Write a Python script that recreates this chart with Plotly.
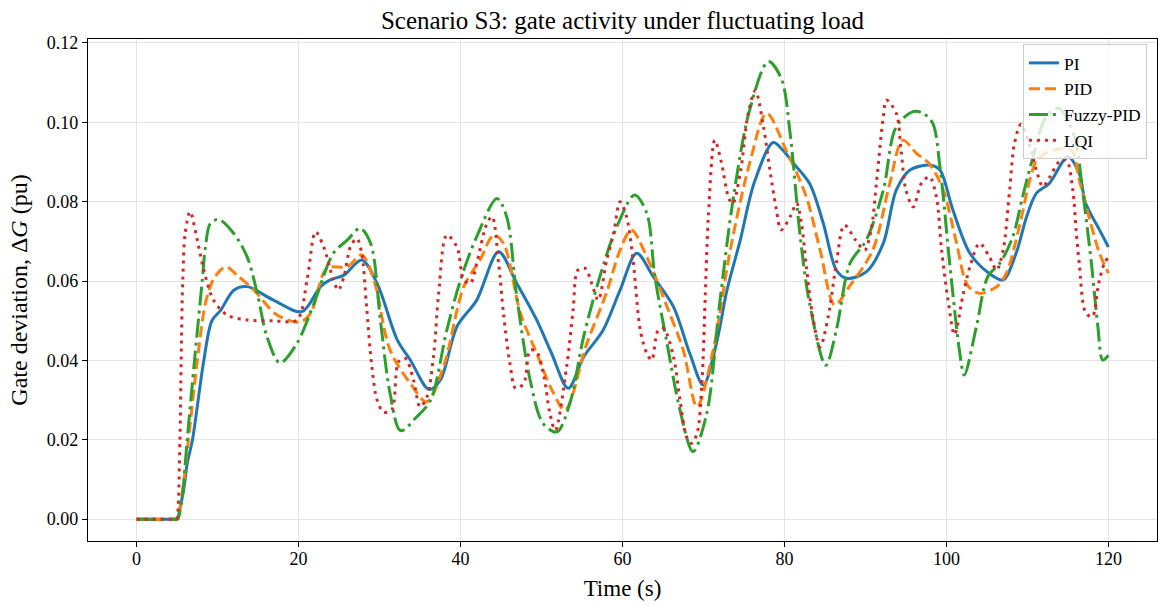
import plotly.graph_objects as go

# ---- data ----
t_pi = [0, 4.9, 5.0, 5.8, 6.25, 6.9, 8.3, 9.3, 10.4, 12.0, 13.65, 16.9, 20.4, 22.7, 23.9, 25.6,
        27.8, 29.7, 32.2, 33.8, 36.1, 37.5, 39.55, 42.0, 44.7, 46.95, 49.4, 51.2, 53.3,
        55.2, 57.6, 59.7, 61.75, 63.8, 66.3, 68.3, 69.97, 71.6, 72.9, 74.5, 76.3, 78.6,
        79.8, 81.1, 83.1, 84.8, 86.4, 87.65, 90.1, 92.2, 93.8, 95.5, 98.1, 99.2, 100.8,
        102.9, 105.3, 107.0, 108.6, 109.9, 111.1, 112.7, 115.0, 116.4, 117.2, 118.9, 120]
v_pi = [0, 0, 0, 0.0073, 0.014, 0.02, 0.04, 0.05, 0.0527, 0.0577, 0.0586, 0.0552, 0.0523, 0.0586,
        0.0603, 0.0615, 0.0653, 0.0594, 0.0451, 0.0401, 0.0327, 0.035, 0.0485, 0.0552, 0.0674,
        0.0594, 0.0502, 0.042, 0.033, 0.0409, 0.0476, 0.0577, 0.067, 0.0611, 0.0535, 0.0418,
        0.0338, 0.0443, 0.0577, 0.070, 0.085, 0.0949, 0.093, 0.0897, 0.0846, 0.0745, 0.0628,
        0.0607, 0.0623, 0.0695, 0.0829, 0.088, 0.0892, 0.088, 0.0779, 0.067, 0.0619, 0.0603,
        0.067, 0.0762, 0.0821, 0.0846, 0.0913, 0.0871, 0.0796, 0.0729, 0.0686]

t_pid = [0, 4.9, 5.0, 5.6, 6.4, 7.5, 8.5, 9.5, 11.0, 12.4, 14.5, 17.4, 20.2, 21.5, 23.5, 26.0, 27.8,
         29.3, 31.3, 33.8, 35.85, 37.9, 40.4, 42.4, 44.1, 45.3, 47.4, 49.4, 51.3, 52.9, 55.6,
         58.0, 59.7, 61.1, 63.0, 65.5, 67.5, 69.2, 71.2, 73.3, 75.7, 77.8, 80.2, 82.7, 84.4,
         86.2, 88.0, 90.9, 93.0, 94.6, 96.3, 97.9, 99.6, 101.2, 102.6, 104.1, 106.2, 107.4,
         109.0, 110.3, 111.2, 113.2, 115.4, 116.4, 117.7, 118.9, 120]
v_pid = [0, 0, 0, 0.006, 0.02, 0.04, 0.0544, 0.0605, 0.0636, 0.0615, 0.0577, 0.0514, 0.0497, 0.0519,
         0.0632, 0.0636, 0.0666, 0.0603, 0.0426, 0.0342, 0.0296, 0.0384, 0.0586, 0.0653, 0.0716,
         0.0695, 0.0519, 0.0418, 0.0325, 0.0275, 0.0443, 0.0569, 0.0678, 0.0729, 0.0661, 0.0535,
         0.0426, 0.0283, 0.0426, 0.0678, 0.0897, 0.1023, 0.093, 0.0812, 0.0678, 0.054, 0.0586,
         0.0678, 0.0846, 0.0955, 0.0922, 0.0895, 0.083, 0.070, 0.059, 0.0569, 0.0586, 0.062,
         0.0737, 0.0855, 0.0905, 0.093, 0.093, 0.0855, 0.0754, 0.067, 0.062]

t_fuzzy = [0, 5.0, 5.1, 5.6, 6.25, 7.15, 8.1, 8.5, 9.1, 10.15, 12.0, 13.65, 14.9, 16.1, 17.7, 19.8,
           21.9, 24.3, 26.0, 27.6, 28.9, 30.1, 31.3, 32.6, 34.6, 36.3, 38.3, 40.0, 42.0, 44.5,
           45.7, 46.95, 48.6, 50.2, 51.9, 53.5, 55.2, 57.2, 59.3, 61.5, 63.0, 64.0, 65.5, 67.1,
           68.7, 70.4, 72.0, 73.7, 75.7, 78.0, 79.6, 80.7, 81.9, 83.1, 85.1, 86.4, 88.1, 90.1,
           92.2, 93.8, 95.9, 97.1, 98.3, 99.2, 100.4, 101.6, 102.2, 103.7, 105.1, 106.6, 108.2,
           109.4, 110.7, 112.3, 113.9, 115.8, 116.8, 117.9, 118.7, 119.3, 120]
v_fuzzy = [0, 0, 0, 0.005, 0.02, 0.04, 0.06, 0.0686, 0.0745, 0.0755, 0.072, 0.0661, 0.0569, 0.046,
           0.0394, 0.0443, 0.0544, 0.067, 0.0703, 0.0733, 0.0695, 0.0502, 0.0317, 0.0223, 0.0258,
           0.03, 0.0476, 0.0603, 0.0712, 0.0808, 0.0762, 0.056, 0.035, 0.0241, 0.022, 0.0292,
           0.046, 0.0611, 0.0737, 0.0817, 0.0771, 0.0611, 0.0443, 0.0275, 0.017, 0.0266, 0.0544,
           0.0812, 0.1031, 0.1153, 0.1111, 0.0972, 0.072, 0.0544, 0.0388, 0.0476, 0.0645, 0.0703,
           0.0829, 0.0989, 0.1027, 0.1023, 0.0998, 0.0888, 0.0645, 0.0426, 0.0363, 0.0485, 0.0611,
           0.0645, 0.0712, 0.0812, 0.0913, 0.1014, 0.1035, 0.0964, 0.0829, 0.0645, 0.0485, 0.0401,
           0.0413]

t_lqi = [0, 4.85, 4.95, 5.35, 5.5, 5.7, 6.0, 6.6, 7.5, 8.3, 9.5, 11.2, 13.65, 16.9, 19.8, 21.05, 22.1,
         23.1, 24.3, 24.9, 25.6, 26.4, 27.2, 27.8, 28.4, 29.05, 29.7, 30.5, 31.5, 32.35, 33.2,
         34.2, 35.0, 35.85, 36.7, 37.3, 38.3, 39.55, 40.4, 41.2, 42.0, 43.25, 43.9, 44.7, 45.3,
         46.1, 46.8, 47.8, 48.6, 49.4, 50.3, 51.0, 51.7, 53.1, 53.9, 54.5, 55.4, 56.2, 57.0,
         58.05, 58.9, 59.7, 60.5, 61.3, 62.2, 63.0, 63.6, 64.4, 65.05, 66.3, 67.1, 67.9, 68.5,
         69.2, 69.8, 70.2, 70.6, 71.4, 72.2, 73.1, 73.6, 74.6, 75.5, 76.4, 77.4, 78.2, 79.0,
         79.6, 80.7, 81.5, 82.1, 82.7, 83.5, 84.4, 85.4, 86.4, 87.4, 88.8, 89.9, 90.7, 91.35,
         92.2, 92.6, 93.8, 94.4, 95.0, 95.9, 96.9, 97.9, 98.75, 99.4, 100.2, 101.0, 102.0,
         102.9, 104.1, 105.3, 106.2, 107.0, 107.8, 108.4, 109.2, 110.3, 111.1, 111.9, 112.7,
         113.9, 114.8, 115.6, 116.0, 116.4, 117.2, 118.0, 118.8, 119.5, 120]
v_lqi = [0, 0, 0, 0.02, 0.04, 0.06, 0.072, 0.0775, 0.0703, 0.0628, 0.0552, 0.0514, 0.0502, 0.05,
         0.0502, 0.0603, 0.0724, 0.0686, 0.0603, 0.0577, 0.0611, 0.0686, 0.0707, 0.067, 0.0535,
         0.0384, 0.03, 0.027, 0.0275, 0.0397, 0.0405, 0.035, 0.0283, 0.0308, 0.0418, 0.0569,
         0.0716, 0.0686, 0.0603, 0.0594, 0.0645, 0.0745, 0.0762, 0.0645, 0.0519, 0.0392, 0.033,
         0.0342, 0.0426, 0.0422, 0.036, 0.027, 0.0224, 0.0384, 0.0527, 0.0628, 0.0632, 0.0594,
         0.0552, 0.0653, 0.072, 0.080, 0.0762, 0.0653, 0.0476, 0.0418, 0.0401, 0.0476, 0.0481,
         0.0409, 0.030, 0.0208, 0.0191, 0.0216, 0.0342, 0.0552, 0.0762, 0.0955, 0.090, 0.081,
         0.0795, 0.088, 0.102, 0.108, 0.099, 0.088, 0.078, 0.0729, 0.0762, 0.0796, 0.0745,
         0.0636, 0.051, 0.0434, 0.051, 0.0645, 0.0741, 0.0703, 0.0678, 0.0729, 0.0846, 0.1014,
         0.1056, 0.1023, 0.093, 0.0829, 0.0787, 0.0846, 0.0863, 0.0813, 0.0678, 0.0552, 0.0465,
         0.056, 0.0636, 0.0695, 0.0661, 0.0628, 0.0678, 0.0829, 0.0947, 0.0995, 0.094, 0.088,
         0.0838, 0.086, 0.090, 0.0905, 0.083, 0.073, 0.0645, 0.052, 0.051, 0.0594, 0.0645, 0.066]

x_ticks = [0, 20, 40, 60, 80, 100, 120]
y_ticks = [0.00, 0.02, 0.04, 0.06, 0.08, 0.10, 0.12]

FONT = "Liberation Serif"
LW = 3

fig = go.Figure()
fig.add_trace(go.Scatter(x=t_pi, y=v_pi, mode="lines", name="PI",
                         line=dict(color="#1f77b4", width=LW, shape="spline", smoothing=0.9)))
fig.add_trace(go.Scatter(x=t_pid, y=v_pid, mode="lines", name="PID",
                         line=dict(color="#ff7f0e", width=LW, dash="11px,5px",
                                   shape="spline", smoothing=0.9)))
fig.add_trace(go.Scatter(x=t_fuzzy, y=v_fuzzy, mode="lines", name="Fuzzy-PID",
                         line=dict(color="#2ca02c", width=LW, dash="19px,5px,3px,5px",
                                   shape="spline", smoothing=0.9)))
fig.add_trace(go.Scatter(x=t_lqi, y=v_lqi, mode="lines", name="LQI",
                         line=dict(color="#d62728", width=LW, dash="3px,5px",
                                   shape="spline", smoothing=0.9)))

axis_common = dict(showline=True, mirror=True, linecolor="black", linewidth=1.3,
                   ticks="outside", ticklen=5, tickwidth=1.2, tickcolor="black",
                   showgrid=True, gridcolor="#e3e3e3", gridwidth=1, zeroline=False,
                   automargin=False,
                   tickfont=dict(family=FONT, size=18, color="black"))

fig.update_layout(
    width=1161, height=605,
    margin=dict(l=88, r=4, t=39, b=64),
    paper_bgcolor="white", plot_bgcolor="white",
    font=dict(family=FONT, color="black"),
    title=dict(text="Scenario S3: gate activity under fluctuating load",
               x=0.5, xref="paper", xanchor="center",
               y=1 - 20 / 605, yref="container", yanchor="middle",
               font=dict(family=FONT, size=25, color="black")),
    xaxis=dict(range=[-6, 126], tickvals=x_ticks, ticklabelstandoff=-4,
               title=dict(text="Time (s)", font=dict(family=FONT, size=23), standoff=12),
               **axis_common),
    yaxis=dict(range=[-0.0055, 0.121], tickvals=y_ticks, tickformat=".2f",
               title=dict(text="Gate deviation, Δ<i>G</i> (pu)",
                          font=dict(family=FONT, size=24), standoff=12),
               **axis_common),
    legend=dict(x=0.9906, y=0.99, xanchor="right", yanchor="top",
                bgcolor="rgba(255,255,255,0.8)", bordercolor="#cccccc", borderwidth=1,
                font=dict(family=FONT, size=17.5, color="black")),
    showlegend=True,
)

fig.write_html("out.html", config={"displayModeBar": False},
               post_script="document.body.style.margin='0';document.body.style.padding='0';")
